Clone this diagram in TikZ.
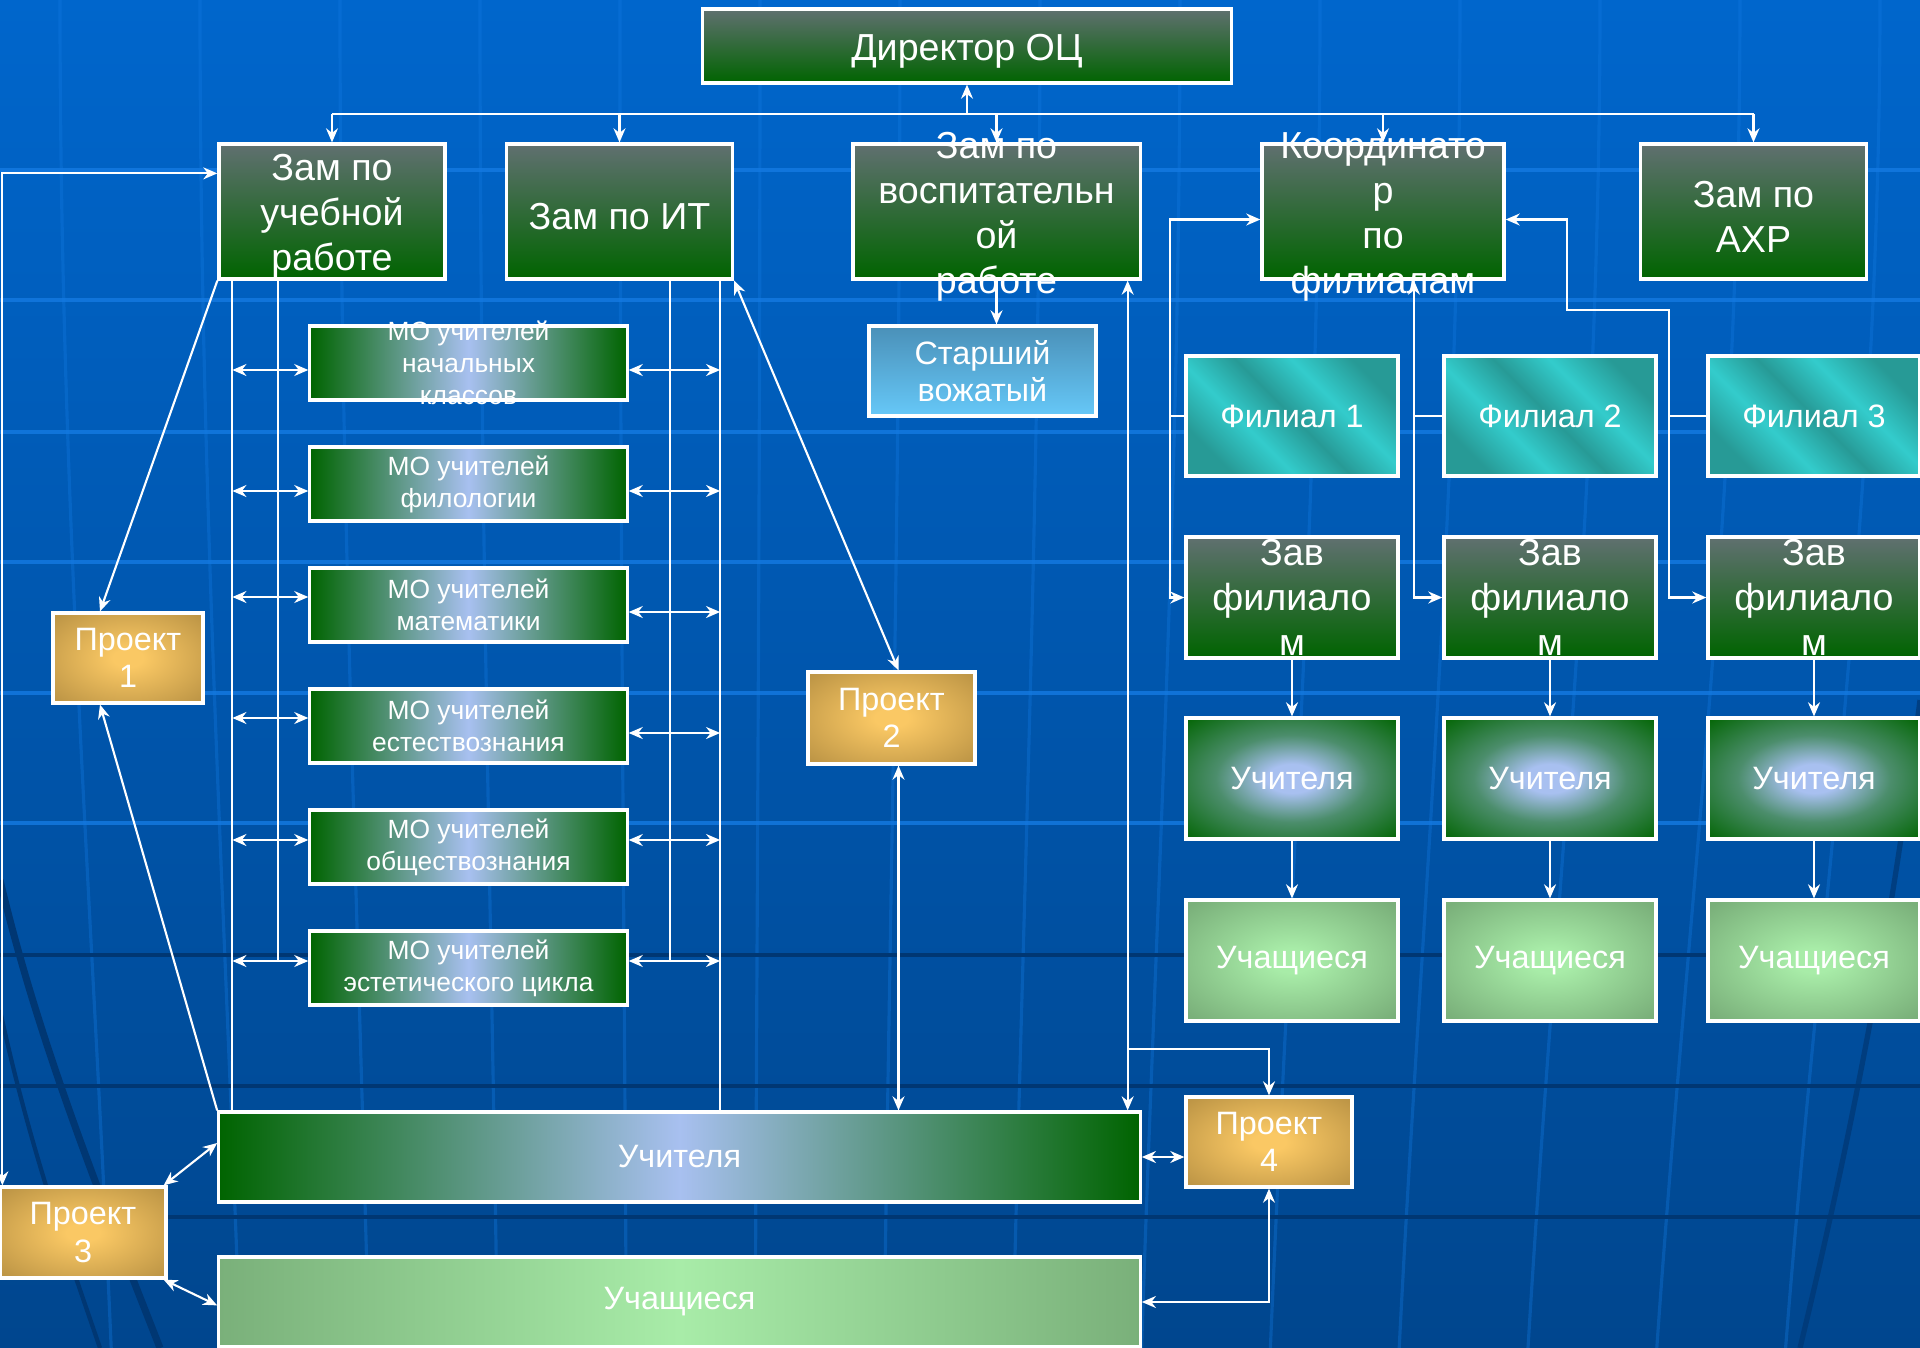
\documentclass[tikz,border=0pt]{standalone}
\usepackage{fontspec}
\setmainfont{Liberation Sans}
\usetikzlibrary{calc, arrows.meta}

\definecolor{bgtop}{RGB}{0,102,204}
\definecolor{bgbot}{RGB}{0,70,142}
\definecolor{gridhi}{RGB}{20,122,226}
\definecolor{gridlo}{RGB}{0,55,115}
\definecolor{bossup}{RGB}{96,112,112}
\definecolor{bossdown}{RGB}{0,100,0}
\definecolor{pale}{RGB}{168,192,240}
\definecolor{leaf}{RGB}{168,236,168}
\definecolor{moss}{RGB}{122,176,122}
\definecolor{gold}{RGB}{250,200,100}
\definecolor{bronze}{RGB}{190,150,70}
\definecolor{tealdark}{RGB}{39,154,150}
\definecolor{teallight}{RGB}{51,204,204}
\definecolor{skyup}{RGB}{74,144,184}
\definecolor{skydown}{RGB}{102,200,248}

\pgfdeclarehorizontalshading{filial}{100bp}{color(0bp)=(tealdark); color(25bp)=(tealdark); color(38bp)=(teallight); color(50bp)=(tealdark); color(62bp)=(teallight); color(75bp)=(tealdark); color(100bp)=(tealdark)}
\pgfdeclareradialshading{glowblue}{\pgfpointorigin}{color(0bp)=(pale); color(6bp)=(pale); color(18bp)=(pale!45!bossdown); color(36bp)=(bossdown); color(50bp)=(bossdown)}
\pgfdeclareradialshading{glowgreen}{\pgfpointorigin}{color(0bp)=(leaf); color(5bp)=(leaf); color(33bp)=(moss); color(50bp)=(moss)}
\pgfdeclareradialshading{glowgold}{\pgfpointorigin}{color(0bp)=(gold); color(5bp)=(gold); color(33bp)=(bronze); color(50bp)=(bronze)}

\tikzset{
  bigtype/.style={font=\fontsize{10.7}{12.8}\selectfont},
  midtype/.style={font=\fontsize{9.2}{10.6}\selectfont},
  smalltype/.style={font=\fontsize{7.5}{9.1}\selectfont},
  box/.style={draw=white, line width=0.9pt, inner sep=0pt, align=center, text=white},
  say/.style={text=white, align=center, inner sep=0pt},
  words/.style={label={[say, bigtype, yshift=-0.05cm]center:#1}},
  boss/.style={box, bigtype, top color=bossup, bottom color=bossdown},
  deputy/.style={boss, minimum width=2.26cm, minimum height=1.35cm},
  mo/.style={box, left color=bossdown, right color=bossdown, middle color=pale, minimum width=3.17cm, minimum height=0.74cm},
  proj/.style={box, midtype, shade, shading=glowgold},
  branch/.style={box, midtype, shade, shading=filial, shading angle=45, minimum width=2.12cm, minimum height=1.2cm},
  tch/.style={box, midtype, shade, shading=glowblue, minimum width=2.12cm, minimum height=1.21cm},
  pup/.style={box, midtype, shade, shading=glowgreen, minimum width=2.12cm, minimum height=1.21cm},
  wire/.style={white, line width=0.6pt},
  lead/.style={wire, -{Stealth[length=4pt, width=3.4pt]}},
  twoway/.style={wire, {Stealth[length=4pt, width=3.4pt]}-{Stealth[length=4pt, width=3.4pt]}}
}

\begin{document}
\begin{tikzpicture}[x=0.01cm, y=-0.01cm]
\useasboundingbox (0,0) rectangle (1920,1348);
\clip (0,0) rectangle (1920,1348);
\shade[top color=bgtop, bottom color=bgbot] (0,0) rectangle (1920,1348);
\foreach \x in {60,200,...,1880}
  \draw[gridhi, line width=0.9pt, opacity=0.35] (\x,0) .. controls (\x,500) and ({\x+(700-\x)*0.05},900) .. ({\x+(700-\x)*0.08},1348);
\foreach \y in {170,300,432,562,693,823}
  \draw[gridhi, line width=1.3pt, opacity=0.8] (0,\y) -- (1920,\y);
\foreach \y in {955,1086,1217}
  \draw[gridlo, line width=1.3pt] (0,\y) -- (1920,\y);
\draw[gridlo, line width=2pt] (0,880) .. controls (40,1050) and (110,1220) .. (160,1348);
\draw[gridlo, line width=1.2pt] (0,1010) .. controls (30,1150) and (70,1260) .. (100,1348);
\draw[gridlo, line width=1.5pt, opacity=0.7] (1920,700) .. controls (1895,900) and (1860,1100) .. (1800,1348);

\node[boss, minimum width=5.28cm, minimum height=0.74cm, words=Директор ОЦ] (dir) at (967,46) {};

\node[deputy, words={Зам по\\учебной\\работе}] (zur) at (332,211.5) {};
\node[deputy, words={Зам по ИТ}] (zit) at (619.5,211.5) {};
\node[deputy, minimum width=2.87cm, words={Зам по\\воспитательн\\ой\\работе}] (zvr) at (996.5,211.5) {};
\node[deputy, minimum width=2.42cm, words={Координато\\р\\по\\филиалам}] (kf) at (1383,211.5) {};
\node[deputy, words={Зам по\\АХР}] (zahr) at (1753.5,211.5) {};

\foreach \t [count=\i] in {{МО учителей\\начальных\\классов}, {МО учителей\\филологии}, {МО учителей\\математики}, {МО учителей\\естествознания}, {МО учителей\\обществознания}, {МО учителей\\эстетического цикла}}
  \node[mo, label={[say, smalltype]center:\t}] (mo\i) at (468.5,{363+121*(\i-1)}) {};

\node[box, midtype, top color=skyup, bottom color=skydown, minimum width=2.27cm, minimum height=0.9cm] (sv) at (982.5,371) {Старший\\вожатый};

\node[proj, minimum width=1.5cm, minimum height=0.9cm] (p1) at (128,658) {Проект\\1};
\node[proj, minimum width=1.67cm, minimum height=0.92cm] (p2) at (891.5,718) {Проект\\2};
\node[proj, minimum width=1.66cm, minimum height=0.91cm] (p3) at (83,1232.5) {Проект\\3};
\node[proj, minimum width=1.66cm, minimum height=0.9cm] (p4) at (1269,1142) {Проект\\4};

\node[box, midtype, left color=bossdown, right color=bossdown, middle color=pale, minimum width=9.21cm, minimum height=0.9cm] (uch) at (679.5,1157) {Учителя};
\node[box, midtype, left color=moss, right color=moss, middle color=leaf, minimum width=9.21cm, minimum height=0.9cm] (stu) at (679.5,1302) {Учащиеся};

\foreach \x [count=\k] in {1292,1550,1814} {
  \node[branch] (fil\k) at (\x,416) {Филиал \k};
  \node[boss, minimum width=2.12cm, minimum height=1.21cm, label={[say, bigtype]center:Зав\\филиало\\м}] (zav\k) at (\x,597.5) {};
  \node[tch] (tch\k) at (\x,778.5) {Учителя};
  \node[pup] (pup\k) at (\x,960.5) {Учащиеся};
  \draw[lead] (zav\k) -- (tch\k);
  \draw[lead] (tch\k) -- (pup\k);
}

\coordinate (bus) at (967,114);
\draw[wire] (bus -| zur.north) -- (bus -| zahr.north);
\foreach \n in {zur,zit,zvr,kf,zahr}
  \draw[lead] (bus -| \n.north) -- (\n.north);
\draw[lead] (bus) -- (dir.south);

\coordinate (la) at ($(zur.south west)+(15,0)$);
\coordinate (lb) at ($(zur.south west)+(61,0)$);
\coordinate (ra) at ($(zit.south west)+(165,0)$);
\coordinate (rb) at ($(zit.south east)+(-14,0)$);
\draw[wire] (la) -- (la |- uch.north);
\draw[wire] (lb) -- ($(lb |- mo6.west)+(0,-7)$);
\draw[wire] (ra) -- ($(ra |- mo6.east)+(0,-7)$);
\draw[wire] (rb) -- (rb |- uch.north);
\foreach \i/\a/\b in {1/7/7, 2/7/7, 3/-8/7, 4/-8/7, 5/-7/-7, 6/-7/-7} {
  \draw[twoway] ($(la |- mo\i.west)+(0,\a)$) -- ($(mo\i.west)+(0,\a)$);
  \draw[twoway] ($(mo\i.east)+(0,\b)$) -- ($(rb |- mo\i.east)+(0,\b)$);
}

\draw[twoway] ($(p3.north west)+(4,0)$) |- ($(zur.north west)+(0,31)$);
\draw[lead] (zur.south west) -- ($(p1.north)+(-28,0)$);
\draw[lead] (uch.north west) -- ($(p1.south)+(-28,0)$);
\draw[twoway] ($(p3.north east)+(-4,0)$) -- ($(uch.west)+(0,-14)$);
\draw[twoway] ($(p3.south east)+(-4,0)$) -- ($(stu.north west)+(0,50)$);

\draw[twoway] (zit.south east) -- ($(p2.north)+(7,0)$);
\coordinate (p2b) at ($(p2.south)+(7,0)$);
\draw[twoway] (p2b) -- (p2b |- uch.north);

\draw[lead] (zvr.south) -- (zvr.south |- sv.north);
\coordinate (zv) at ($(zvr.south east)+(-14,0)$);
\coordinate (zv4) at ($(p4.north)+(0,-46)$);
\draw[twoway] (zv) -- (zv |- uch.north);
\draw[lead] (zv |- zv4) -- (zv4) -- (p4.north);
\draw[twoway] (uch.east) -- (uch.east -| p4.west);
\draw[twoway] (p4.south) |- (stu.east);

\coordinate (kl) at ($(zav1.west)+(-14,0)$);
\draw[twoway] ($(kf.west)+(0,8)$) -| (kl) -- (zav1.west);
\draw[wire] (kl |- fil1.west) -- (fil1.west);
\coordinate (km) at ($(kf.south)+(31,0)$);
\draw[twoway] (km) |- (zav2.west);
\draw[wire] (km |- fil2.west) -- (fil2.west);
\coordinate (kr) at ($(kf.east)+(61,98.5)$);
\coordinate (kr2) at ($(zav3.west)+(-37,0)$);
\draw[twoway] ($(kf.east)+(0,8)$) -| (kr) -| (kr2) -- (zav3.west);
\draw[wire] (kr2 |- fil3.west) -- (fil3.west);
\end{tikzpicture}
\end{document}
